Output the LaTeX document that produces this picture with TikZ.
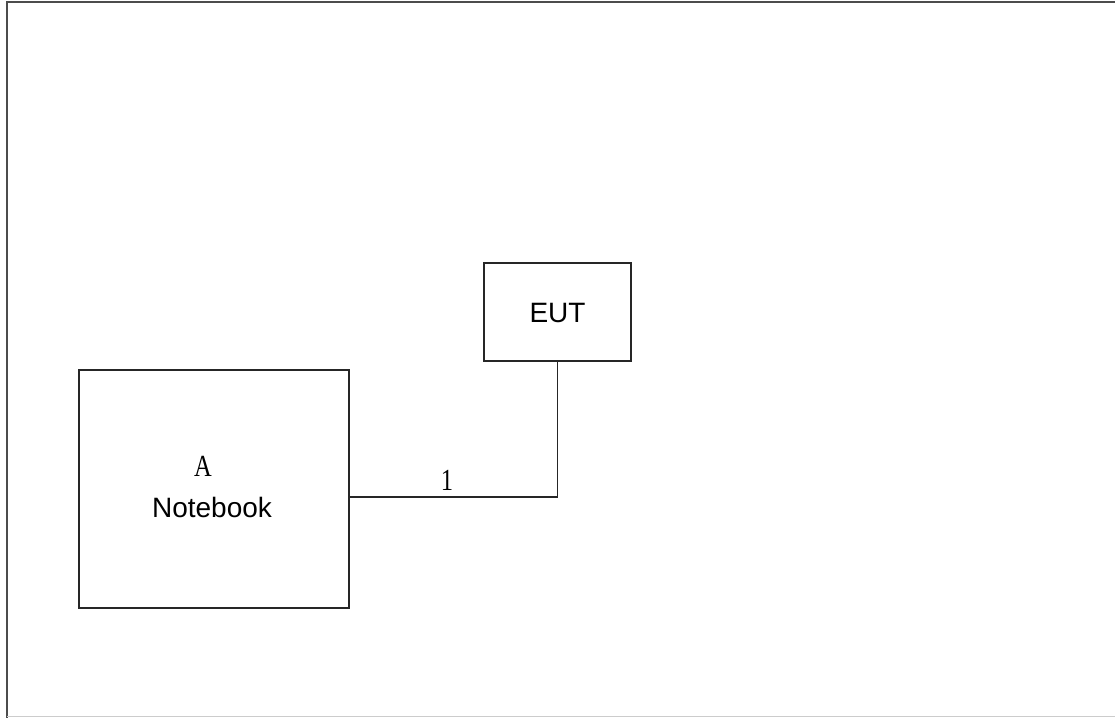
\documentclass[tikz,border=0pt]{standalone}
\usepackage{fontspec}
\setmainfont{Liberation Sans}
\newfontfamily\serifA{Liberation Serif}
\begin{document}
\begin{tikzpicture}[x=0.75pt,y=-0.75pt,
  box/.style={draw=black!85,line width=1.3pt,inner sep=0pt},
  wire/.style={draw=black!85,line width=1.3pt},
  lbl/.style={font=\fontsize{21}{24}\selectfont,inner sep=0pt},
  slbl/.style={font=\serifA\fontsize{23}{24}\selectfont,inner sep=0pt,xscale=0.8}]
\useasboundingbox (0,0) rectangle (1115,718);
% outer frame
\draw[black!70,line width=1.6pt] (7,718) -- (7,2) -- (1115,2);
\draw[black!20,line width=1pt] (7,716.5) -- (1115,716.5);
% boxes
\node[box,minimum width=147*0.75pt,minimum height=98*0.75pt] (eut) at (557.5,312) {};
\node[box,minimum width=270*0.75pt,minimum height=238*0.75pt] (nb) at (214,489) {};
\node[lbl] (eutt) at (557.5,313) {EUT};
\node[slbl] (a) at (203,466) {A};
\node[lbl] (nbt) at (212,507) {Notebook};
% connector
\coordinate (c) at (eut.south |- 0,497);
\draw[wire] (nb.east |- c) -- (c) -- (eut.south);
\node[slbl] (one) at (447,480) {1};
\end{tikzpicture}
\end{document}
